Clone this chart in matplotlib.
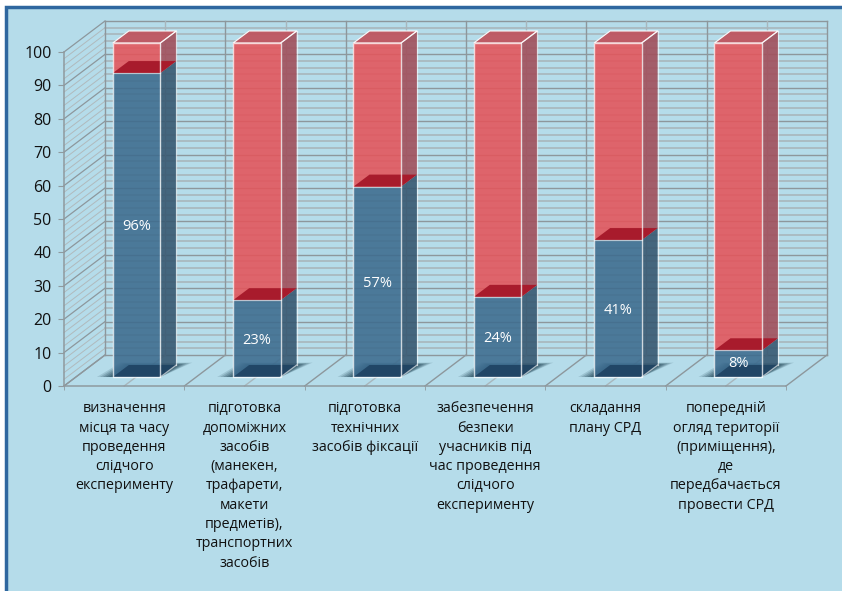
import matplotlib
matplotlib.use('Agg')
import matplotlib.pyplot as plt
from matplotlib.patches import Rectangle

plt.rcParams['font.family'] = ['Open Sans', 'DejaVu Sans']

categories = ['визначення\nмісця та часу\nпроведення\nслідчого\nексперименту',
              'підготовка\nдопоміжних\nзасобів\n(манекен,\nтрафарети,\nмакети\nпредметів),\nтранспортних\nзасобів',
              'підготовка\nтехнічних\nзасобів фіксації',
              'забезпечення\nбезпеки\nучасників під\nчас проведення\nслідчого\nексперименту',
              'складання\nплану СРД',
              'попередній\nогляд території\n(приміщення),\nде\nпередбачається\nпровести СРД']
blue_vals = [91, 23, 57, 24, 41, 8]
red_vals = [9, 77, 43, 76, 59, 92]
pct_labels = ['96%', '23%', '57%', '24%', '41%', '8%']
label_y = [45, 11, 28, 11.5, 20, 4]

W, H = 842, 591
fig = plt.figure(figsize=(W / 100, H / 100), dpi=100, facecolor='white')

# plot box in pixels: x 64-786, y 52-386 from the top
ax = fig.add_axes([64 / W, 1 - 386 / H, 722 / W, 334 / H])
ax.set_xlim(0, 6)
ax.set_ylim(0, 100)
ax.patch.set_alpha(0)

PX = 6 / 722
PY = 100 / 334


def proj(x, y, dx, dy):
    # oblique projection, depth given as a pixel shift
    return x + dx * PX, y + dy * PY


def poly(pts, **kw):
    xs, ys = zip(*pts)
    ax.fill(xs, ys, clip_on=False, **kw)


# panel behind everything, right and bottom edges run off the picture
fig.patches.append(Rectangle((6 / W, -0.1), 1, 1.1 - 7 / H, transform=fig.transFigure,
                             facecolor='#b5dcea', edgecolor='#2f679f', lw=2.5, zorder=-10))

wall_dx, wall_dy = 41, 31
minor_c = '#a8b6bc'
major_c = '#8d979c'
side_c = '#b0babd'

# walls
for v in range(0, 101, 2):
    major = v % 10 == 0
    a = proj(0, v, wall_dx, wall_dy)
    b = proj(6, v, wall_dx, wall_dy)
    ax.plot([a[0], b[0]], [a[1], b[1]], color=major_c if major else minor_c,
            lw=1.0 if major else 1.2, clip_on=False, zorder=1)
    ax.plot([0, a[0]], [v, a[1]], color=major_c if major else side_c,
            lw=0.9 if major else 0.7, clip_on=False, zorder=1)
for i in range(0, 13):
    x = i / 2
    a = proj(x, 0, wall_dx, wall_dy)
    b = proj(x, 100, wall_dx, wall_dy)
    c = major_c if i % 2 == 0 else minor_c
    ax.plot([a[0], b[0]], [a[1], b[1]], color=c, lw=1.0, clip_on=False, zorder=1)
    ax.plot([x, a[0]], [0, a[1]], color=c, lw=1.0, clip_on=False, zorder=1)

# bars, front face sits part way into the floor
f_dx, f_dy = 12.4, 9
b_dx, b_dy = 28.4, 21
bar_w = 47.5 * PX
edge = (1, 1, 1, 0.75)

for i in range(6):
    cx = i + 0.5
    x0, x1 = cx - bar_w / 2, cx + bar_w / 2
    v = blue_vals[i]

    # soft shadow on the floor
    for k, a in zip([16, 13, 10, 7, 4], [0.16, 0.2, 0.25, 0.3, 0.35]):
        poly([proj(x0, 0, f_dx - k, f_dy),
              proj(x1, 0, f_dx, f_dy),
              proj(x1, 0, b_dx + k, b_dy + k * 0.15),
              proj(x0, 0, b_dx - k * 0.5, b_dy + k * 0.15)],
             color='#25485a', alpha=a, lw=0, zorder=2)

    # side faces
    poly([proj(x1, 0, f_dx, f_dy), proj(x1, v, f_dx, f_dy),
          proj(x1, v, b_dx, b_dy), proj(x1, 0, b_dx, b_dy)],
         facecolor='#35566f', alpha=0.88, edgecolor='none', zorder=4)
    poly([proj(x1, v, f_dx, f_dy), proj(x1, 100, f_dx, f_dy),
          proj(x1, 100, b_dx, b_dy), proj(x1, v, b_dx, b_dy)],
         facecolor='#a2505c', alpha=0.9, edgecolor='none', zorder=4)

    # top of the red part
    poly([proj(x0, 100, f_dx, f_dy), proj(x1, 100, f_dx, f_dy),
          proj(x1, 100, b_dx, b_dy), proj(x0, 100, b_dx, b_dy)],
         facecolor='#bf5560', alpha=0.95, edgecolor=(1, 1, 1, 0.5), lw=0.8, zorder=5)

    # front faces
    ox, oy = proj(x0, 0, f_dx, f_dy)
    ax.bar(ox + bar_w / 2, v, bottom=oy, width=bar_w, color='#3c6b8e', alpha=0.88,
           edgecolor='none', clip_on=False, zorder=6)
    ax.bar(ox + bar_w / 2, 100 - v, bottom=oy + v, width=bar_w, color='#e4545a', alpha=0.88,
           edgecolor='none', clip_on=False, zorder=6)

    # bottom of the bar seen through the front
    poly([proj(x0, 0, f_dx, f_dy), proj(x1, 0, f_dx, f_dy),
          proj(x1, 0, b_dx, b_dy), proj(x0, 0, b_dx, b_dy)],
         facecolor='#1f4362', alpha=0.9, edgecolor='none', zorder=6.5)
    # top of the blue part seen through the red
    poly([proj(x0, v, f_dx, f_dy), proj(x1, v, f_dx, f_dy),
          proj(x1, v, b_dx, b_dy), proj(x0, v, b_dx, b_dy)],
         facecolor='#a81b2c', edgecolor='none', zorder=6.5)

    ax.bar(ox + bar_w / 2, 100, bottom=oy, width=bar_w, facecolor='none',
           edgecolor=edge, lw=1.0, clip_on=False, zorder=7)

    # white edges of the side
    for p, q in [(proj(x1, 100, f_dx, f_dy), proj(x1, 100, b_dx, b_dy)),
                 (proj(x1, 0, f_dx, f_dy), proj(x1, 0, b_dx, b_dy)),
                 (proj(x1, v, f_dx, f_dy), proj(x0, v, f_dx, f_dy)),
                 (proj(x1, 100, b_dx, b_dy), proj(x1, 0, b_dx, b_dy))]:
        ax.plot([p[0], q[0]], [p[1], q[1]], color=(1, 1, 1, 0.6), lw=0.9, clip_on=False, zorder=7)

    ax.text(ox + bar_w / 2, label_y[i] + oy, pct_labels[i], color='white', fontsize=10.5,
            ha='center', va='center', zorder=8)

# axes and ticks
for s in ['top', 'right']:
    ax.spines[s].set_visible(False)
for s in ['left', 'bottom']:
    ax.spines[s].set_color('#8f9a9f')
    ax.spines[s].set_linewidth(1.1)
ax.set_yticks(range(0, 101, 10))
ax.tick_params(axis='y', labelsize=11.5, length=4, color='#8f9a9f', pad=5, labelcolor='#111111')
ax.set_xticks([i + 0.5 for i in range(6)])
ax.set_xticklabels(categories, fontsize=10.3, color='#111111', linespacing=1.39)
ax.set_xticks(range(7), minor=True)
ax.tick_params(axis='x', which='major', length=0, pad=11)
ax.tick_params(axis='x', which='minor', length=3, color='#8f9a9f')

fig.savefig('out.png', dpi=100)
